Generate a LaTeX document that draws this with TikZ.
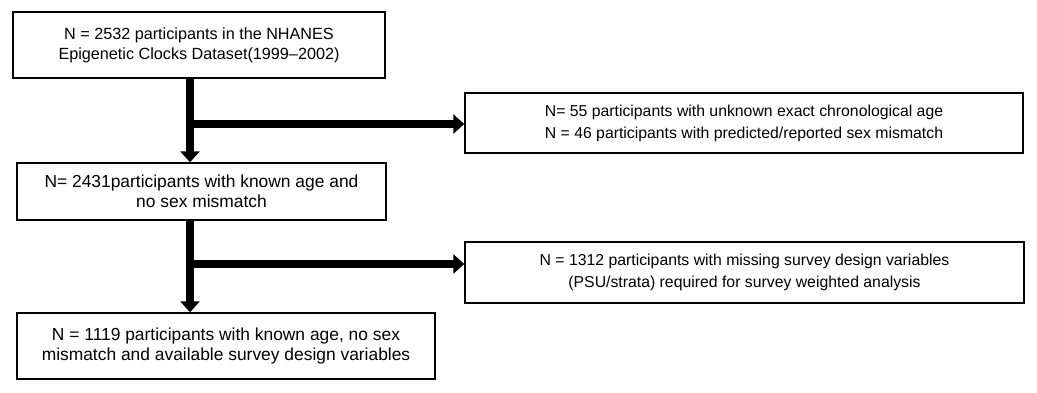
\documentclass[tikz,border=0pt]{standalone}
\usepackage{fontspec}
\setmainfont{Liberation Sans}
\usetikzlibrary{arrows.meta, positioning, calc}

\begin{document}
\begin{tikzpicture}[x=1pt, y=-1pt,
    flowbox/.style={draw, line width=1.4pt, inner sep=0pt, align=center,
        font=\fontsize{17.4}{20}\selectfont},
    sidebox/.style={flowbox, font=\fontsize{15.8}{22}\selectfont},
    bigarrow/.style={line width=7.5pt, -{Triangle[width=19pt, length=11pt]}}]
    \useasboundingbox (0,0) rectangle (1037,392);
    \node[flowbox, font=\fontsize{16.2}{20}\selectfont, minimum width=372pt, minimum height=66pt] (start) at (199,45)
        {N = 2532 participants in the NHANES\\Epigenetic Clocks Dataset(1999--2002)};
    \node[flowbox, minimum width=369pt, minimum height=57pt] (known) at (201.5,191.5)
        {N= 2431participants with known age and\\no sex mismatch};
    \node[flowbox, minimum width=418pt, minimum height=66pt] (final) at (226,346)
        {N = 1119 participants with known age, no sex\\mismatch and available survey design variables};
    \node[sidebox, minimum width=558pt, minimum height=60pt] (excl1) at (744,123)
        {N= 55 participants with unknown exact chronological age\\N = 46 participants with predicted/reported sex mismatch};
    \node[sidebox, minimum width=559pt, minimum height=61pt] (excl2) at (744.5,272.5)
        {N = 1312 participants with missing survey design variables\\(PSU/strata) required for survey weighted analysis};
    % branch points on the main trunk
    \coordinate (top1) at (190,78);
    \coordinate (br1) at (190,124);
    \coordinate (top2) at (190,220);
    \coordinate (br2) at (190,264);
    \draw[bigarrow] (top1) -- (top1 |- known.north);
    \draw[bigarrow] ([xshift=-3.75pt]br1) -- (br1 -| excl1.west);
    \draw[bigarrow] (top2) -- (top2 |- final.north);
    \draw[bigarrow] ([xshift=-3.75pt]br2) -- (br2 -| excl2.west);
\end{tikzpicture}
\end{document}
